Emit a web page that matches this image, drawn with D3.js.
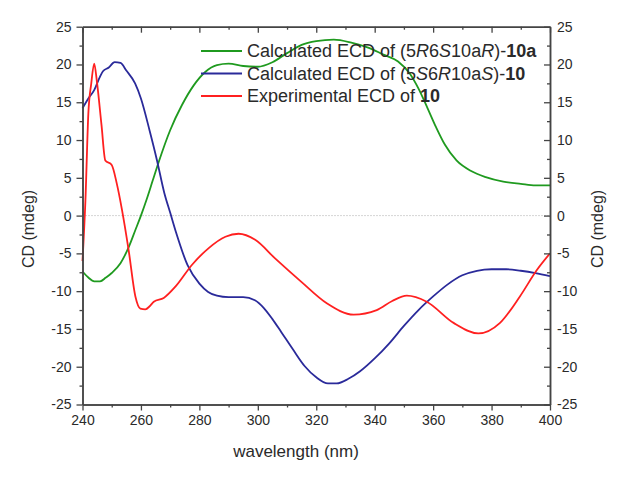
<!DOCTYPE html>
<html><head><meta charset="utf-8">
<script src="https://cdn.jsdelivr.net/npm/d3@7"></script>
<style>
body{margin:0;background:#fff;}
text{font-family:"Liberation Sans",Arial,sans-serif;fill:#2a2a2a;}
</style></head>
<body><svg id="c" width="626" height="483"></svg>
<script>
// ---- data ----
const xTicks = [240,260,280,300,320,340,360,380,400];
const yTicks = [-25,-20,-15,-10,-5,0,5,10,15,20,25];
const greenCalc10a = [[240,-7.4],[242,-8.2],[244,-8.7],[246,-8.7],[248,-8.2],[250,-7.6],[253,-6.3],[256,-4.0],[258,-2.0],[260,0.0],[262,2.2],[264,4.6],[266,7.0],[270,11.3],[274,14.6],[278,17.2],[282,19.0],[286,19.9],[290,20.1],[295,19.8],[300,19.7],[305,20.3],[310,21.5],[315,22.6],[320,23.1],[326,23.3],[332,22.9],[338,22.2],[343,21.3],[348,20.4],[352,18.8],[355,16.8],[358,14.3],[361,11.7],[364,9.4],[368,7.3],[373,5.9],[378,5.1],[384,4.5],[390,4.2],[395,4.0],[400,4.0]];
const blueCalc10 = [[240,14.2],[242,15.5],[244,16.6],[246,18.4],[247,19.1],[249,19.6],[251,20.3],[253,20.2],[255,19.2],[258,17.5],[260,15.5],[263,11.2],[265.5,7.3],[268,3.0],[270,0.4],[272,-2.2],[276,-6.6],[280,-9.0],[283,-10.1],[286,-10.6],[290,-10.8],[295,-10.8],[299,-11.2],[302,-12.2],[305,-13.7],[308,-15.4],[312,-17.7],[316,-19.9],[320,-21.4],[324,-22.2],[327,-22.2],[331,-21.6],[335,-20.6],[340,-18.9],[345,-16.9],[350,-14.6],[355,-12.5],[360,-10.7],[365,-9.1],[370,-7.9],[375,-7.3],[380,-7.1],[385,-7.1],[390,-7.3],[395,-7.6],[400,-8.0]];
const redExp10 = [[240,-6],[241,2],[242,13.5],[243,17.5],[244,20.1],[245,17.5],[246.5,12],[247.8,7.3],[250,6.7],[251.7,4.3],[253.5,0.8],[255.8,-4.6],[258.1,-10.7],[259.8,-12.3],[261.5,-12.4],[263,-12],[264.4,-11.4],[267.8,-10.9],[271.8,-9.4],[277.5,-6.5],[283.2,-4.3],[288.9,-2.8],[293.4,-2.4],[299.1,-3.2],[306,-5.7],[315,-8.8],[323.6,-11.6],[332.8,-13.1],[340.7,-12.5],[346,-11.3],[351,-10.6],[357.8,-11.4],[367,-14.2],[375.5,-15.6],[382.9,-14.2],[389.7,-10.7],[395.5,-7.2],[400,-5.0]];
const seriesNames = ["greenCalc10a","blueCalc10","redExp10"];
const colors = ["#1f9a1f","#2a2a9a","#ff2020"];

// ---- layout ----
const svg = d3.select("#c");
const L=82.5, R=550, T=26.7, B=404.5;
const x = d3.scaleLinear().domain([240,400]).range([L,R]);
const y = d3.scaleLinear().domain([-25,25]).range([B,T]);
const axisColor="#444";
const fmt = d => String(d);

// zero line
svg.append("line").attr("x1",L).attr("x2",R).attr("y1",y(0)).attr("y2",y(0))
  .attr("stroke","#aaa").attr("stroke-width",1).attr("stroke-dasharray","1,2");

// curves
const line = d3.line().x(d=>x(d[0])).y(d=>y(d[1])).curve(d3.curveMonotoneX);
[greenCalc10a,blueCalc10,redExp10].forEach((s,i)=>{
  svg.append("path").datum(s).attr("d",line).attr("fill","none")
    .attr("stroke",colors[i]).attr("stroke-width",1.8);
});

// axes
const xMinor = d3.range(250,400,20);
const yMinor = d3.range(-22.5,25,5);
function styleAxis(g){
  g.select(".domain").attr("stroke",axisColor).attr("stroke-width",1.5);
  g.selectAll(".tick line").attr("stroke",axisColor).attr("stroke-width",1.3);
  g.selectAll(".tick text").attr("fill","#2a2a2a").style("font-size","14px")
    .style("font-family","'Liberation Sans',Arial,sans-serif");
}
// bottom
svg.append("g").attr("transform",`translate(0,${B})`)
  .call(d3.axisBottom(x).tickValues(xTicks).tickFormat(fmt).tickSize(6).tickSizeOuter(0).tickPadding(5)).call(styleAxis);
svg.append("g").attr("transform",`translate(0,${B})`)
  .call(d3.axisBottom(x).tickValues(xMinor).tickSize(3).tickFormat("").tickSizeOuter(0)).call(styleAxis);
// top (ticks inward)
svg.append("g").attr("transform",`translate(0,${T})`)
  .call(d3.axisBottom(x).tickValues(xTicks).tickSize(6).tickFormat("").tickSizeOuter(0)).call(styleAxis);
svg.append("g").attr("transform",`translate(0,${T})`)
  .call(d3.axisBottom(x).tickValues(xMinor).tickSize(3).tickFormat("").tickSizeOuter(0)).call(styleAxis);
// left
svg.append("g").attr("transform",`translate(${L},0)`)
  .call(d3.axisLeft(y).tickValues(yTicks).tickFormat(fmt).tickSize(6).tickSizeOuter(0).tickPadding(5)).call(styleAxis);
svg.append("g").attr("transform",`translate(${L},0)`)
  .call(d3.axisLeft(y).tickValues(yMinor).tickSize(3).tickFormat("").tickSizeOuter(0)).call(styleAxis);
// right (ticks inward, labels outside)
const rg = svg.append("g").attr("transform",`translate(${R},0)`)
  .call(d3.axisLeft(y).tickValues(yTicks).tickFormat(fmt).tickSize(6).tickSizeOuter(0)).call(styleAxis);
rg.selectAll(".tick text").attr("x",7).attr("text-anchor","start");
svg.append("g").attr("transform",`translate(${R},0)`)
  .call(d3.axisLeft(y).tickValues(yMinor).tickSize(3).tickFormat("").tickSizeOuter(0)).call(styleAxis);

// axis titles
svg.append("text").attr("x",296).attr("y",457).attr("text-anchor","middle")
  .style("font-size","17px").text("wavelength (nm)");
svg.append("text").attr("transform","translate(34,229) rotate(-90)").attr("text-anchor","middle")
  .style("font-size","16px").text("CD (mdeg)");
svg.append("text").attr("transform","translate(603,229) rotate(-90)").attr("text-anchor","middle")
  .style("font-size","16px").text("CD (mdeg)");

// legend
const legend = [
  [["Calculated ECD of (5",""],["R","i"],["6",""],["S","i"],["10a",""],["R","i"],[")-",""],["10a","b"]],
  [["Calculated ECD of (5",""],["S","i"],["6",""],["R","i"],["10a",""],["S","i"],[")-",""],["10","b"]],
  [["Experimental ECD of ",""],["10","b"]]
];
legend.forEach((parts,i)=>{
  const yy = 51 + i*22.5;
  svg.append("line").attr("x1",201).attr("x2",242).attr("y1",yy).attr("y2",yy)
    .attr("stroke",colors[i]).attr("stroke-width",1.8);
  const t = svg.append("text").attr("x",247).attr("y",yy+6).style("font-size","18px");
  parts.forEach(p=>{
    const ts = t.append("tspan").text(p[0]);
    if(p[1]==="i") ts.style("font-style","italic");
    if(p[1]==="b") ts.style("font-weight","bold");
  });
});
</script></body></html>
